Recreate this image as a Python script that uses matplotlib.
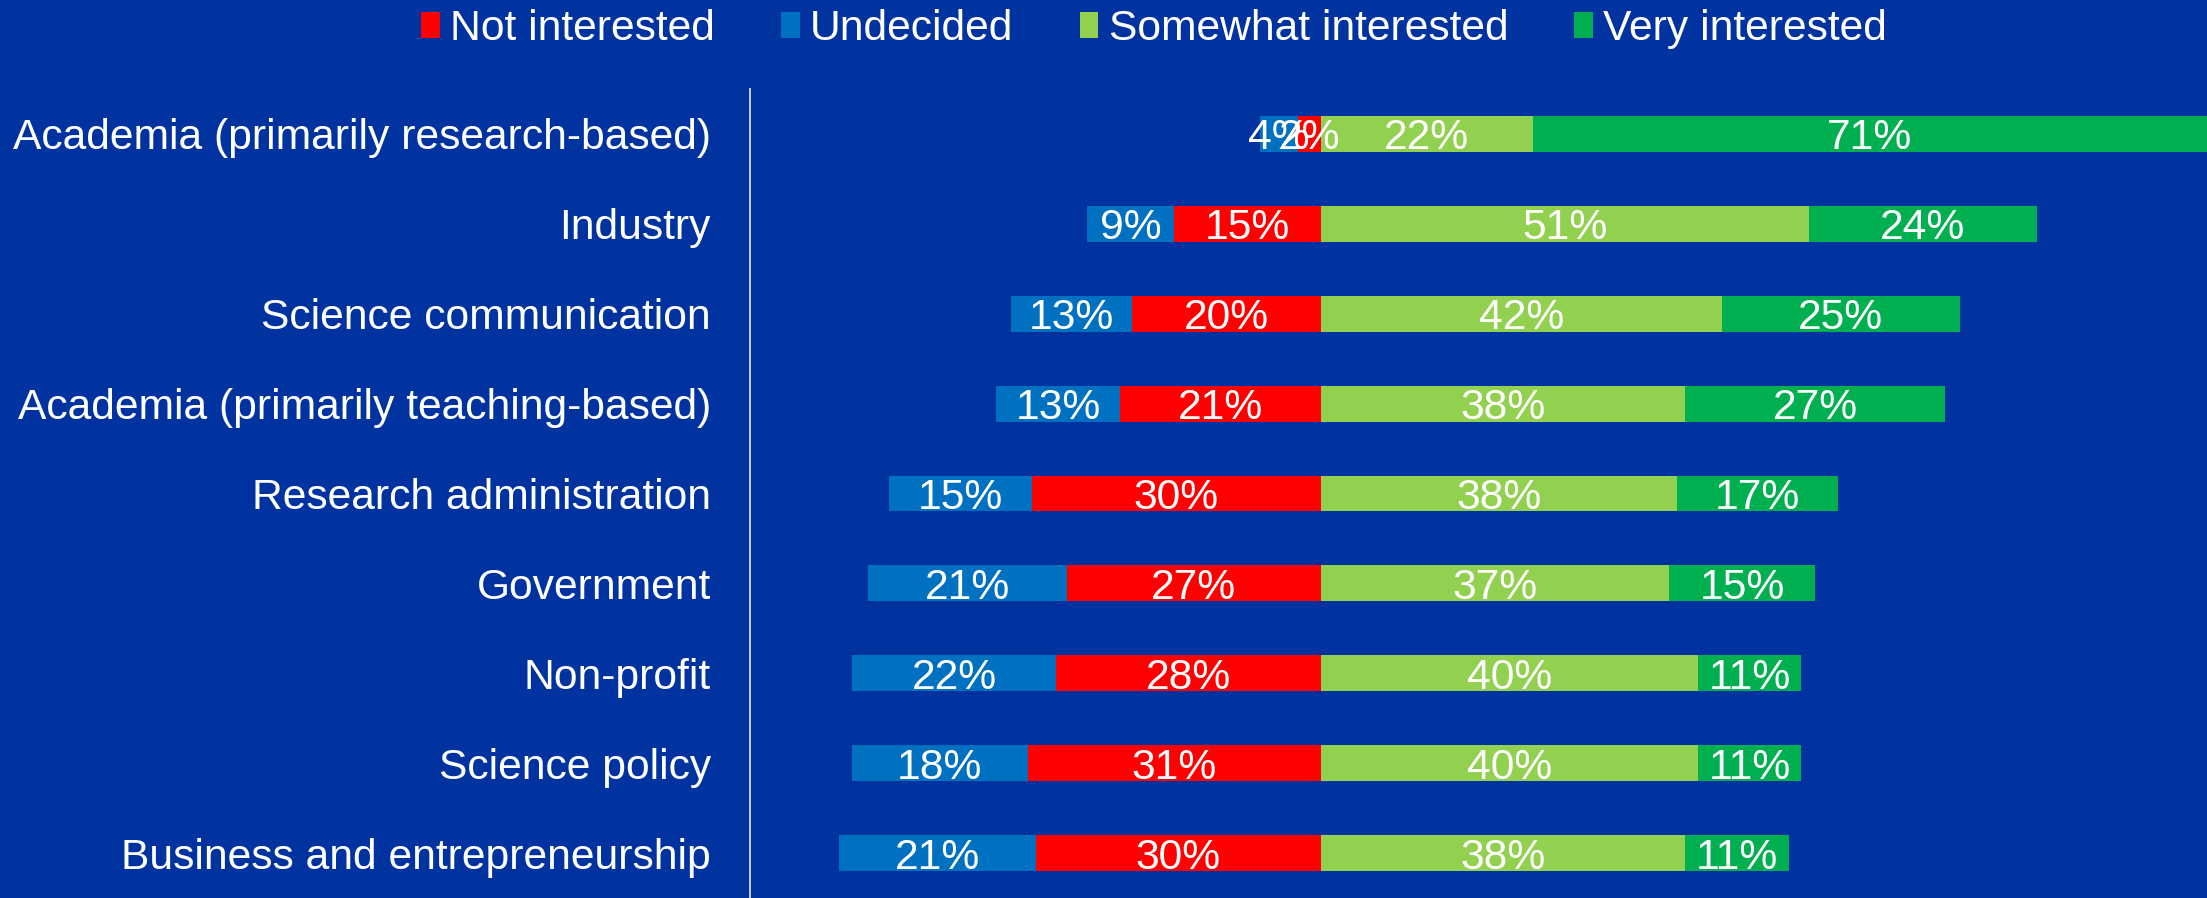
import matplotlib
matplotlib.use('Agg')
import matplotlib.pyplot as plt
from matplotlib.patches import Patch

categories = ["Academia (primarily research-based)", "Industry", "Science communication",
              "Academia (primarily teaching-based)", "Research administration", "Government",
              "Non-profit", "Science policy", "Business and entrepreneurship"]
not_interested = [2.4, 15.4, 19.8, 21.1, 30.4, 26.7, 27.8, 30.8, 29.9]
undecided = [4.0, 9.2, 12.8, 13.0, 15.0, 20.9, 21.5, 18.5, 20.7]
somewhat = [22.3, 51.3, 42.2, 38.3, 37.5, 36.6, 39.7, 39.7, 38.3]
very = [70.9, 24.0, 25.0, 27.4, 16.9, 15.4, 10.8, 10.8, 11.0]
series_names = ["Not interested", "Undecided", "Somewhat interested", "Very interested"]

BG = '#0033A0'
C_NOT = '#FF0000'
C_UND = '#0070C0'
C_SOME = '#92D050'
C_VERY = '#00B050'

plt.rcParams['font.family'] = ['Liberation Sans', 'DejaVu Sans']
W, H = 2207, 898
fig = plt.figure(figsize=(W / 100, H / 100), dpi=100, facecolor=BG)
ax = fig.add_axes([750 / W, 0, 1 - 750 / W, 1 - 89 / H])
ax.set_facecolor(BG)

y = list(range(len(categories)))
h = 0.4
neg_ni = [-v for v in not_interested]
neg_und = [-v for v in undecided]

b_not = ax.barh(y, neg_ni, height=h, color=C_NOT)
b_und = ax.barh(y, neg_und, left=neg_ni, height=h, color=C_UND)
b_some = ax.barh(y, somewhat, left=0, height=h, color=C_SOME)
b_very = ax.barh(y, very, left=somewhat, height=h, color=C_VERY)

fs = 30.7
for cont, vals in [(b_not, not_interested), (b_und, undecided), (b_some, somewhat), (b_very, very)]:
    for rect, v in zip(cont.patches, vals):
        cx = rect.get_x() + rect.get_width() / 2
        cy = rect.get_y() + rect.get_height() / 2
        ax.text(cx, cy, f"{round(v):d}%", ha='center', va='center_baseline',
                color='white', fontsize=fs)

ax.set_xlim(-60, 93.2)
ax.set_ylim(8.5, -0.5)
ax.set_yticks(y)
ax.set_yticklabels(categories)
ax.tick_params(axis='y', length=0, pad=28, labelsize=fs, labelcolor='white')
ax.set_xticks([])
for s in ['top', 'right', 'bottom']:
    ax.spines[s].set_visible(False)
ax.spines['left'].set_color('#D9D9D9')
ax.spines['left'].set_linewidth(1.3)

handles = [Patch(facecolor=c, edgecolor='none') for c in [C_NOT, C_UND, C_SOME, C_VERY]]
fig.legend(handles, series_names, loc='center', bbox_to_anchor=(0.523, 1 - 29 / H),
           ncol=4, frameon=False, fontsize=fs, handlelength=0.43, handleheight=0.55,
           handletextpad=0.25, columnspacing=1.55, labelcolor='white', borderaxespad=0)

fig.savefig('out.png', dpi=100, facecolor=BG)
